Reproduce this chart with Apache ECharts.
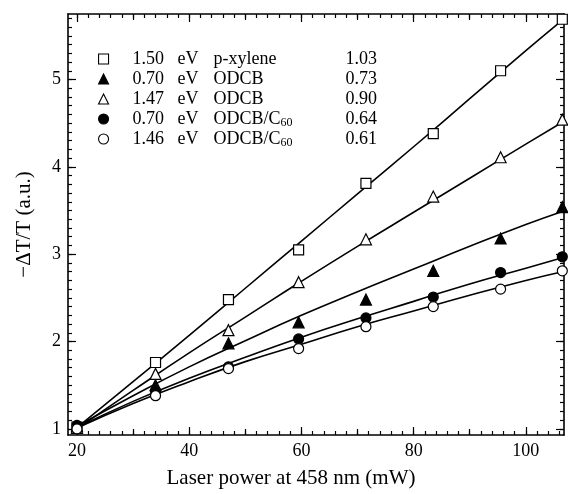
<!DOCTYPE html>
<html>
<head>
<meta charset="utf-8">
<script src="https://cdn.jsdelivr.net/npm/echarts@6/dist/echarts.min.js"></script>
<style>
html,body{margin:0;padding:0;background:#fff;}
#c{width:568px;height:494px;}
</style>
</head>
<body>
<div id="c"></div>
<script>
// ---- data ----
var X_PTS = [20, 34, 47, 59.5, 71.5, 83.5, 95.5, 106.5];
var SQ    = [1.02, 1.76, 2.48, 3.05, 3.81, 4.38, 5.10, 5.69];   // 1.50 eV p-xylene
var TRI_F = [1.03, 1.50, 1.98, 2.22, 2.48, 2.81, 3.18, 3.54];   // 0.70 eV ODCB
var TRI_O = [1.01, 1.63, 2.13, 2.68, 3.17, 3.66, 4.11, 4.54];   // 1.47 eV ODCB
var CIR_F = [1.04, 1.43, 1.71, 2.03, 2.27, 2.51, 2.79, 2.97];   // 0.70 eV ODCB/C60
var CIR_O = [1.00, 1.38, 1.69, 1.92, 2.17, 2.40, 2.60, 2.81];   // 1.46 eV ODCB/C60

// fitted curves (as drawn)
var X_FIT  = [20, 30, 40, 50, 60, 70, 80, 90, 100, 106.5];
var FIT_SQ = [1.015, 1.54, 2.07, 2.61, 3.15, 3.69, 4.23, 4.78, 5.33, 5.68];
var FIT_TF = [1.03, 1.38, 1.71, 2.01, 2.30, 2.57, 2.83, 3.09, 3.34, 3.49];
var FIT_TO = [1.00, 1.44, 1.87, 2.28, 2.69, 3.09, 3.48, 3.87, 4.26, 4.51];
var FIT_CF = [1.015, 1.315, 1.58, 1.82, 2.05, 2.26, 2.46, 2.66, 2.84, 2.96];
var FIT_CO = [1.01, 1.29, 1.54, 1.77, 1.97, 2.17, 2.35, 2.53, 2.70, 2.80];

var ENERGY   = ['1.50', '0.70', '1.47', '0.70', '1.46'];
var SOLVENT  = ['p-xylene', 'ODCB', 'ODCB', 'ODCB/C', 'ODCB/C'];
var SUBS     = ['', '', '', '60', '60'];
var EXPONENT = ['1.03', '0.73', '0.90', '0.64', '0.61'];

var X_LABELS = [20, 40, 60, 80, 100];
var Y_LABELS = [1, 2, 3, 4, 5];
var X_NAME = 'Laser power at 458 nm (mW)';
var Y_NAME = '\u2212\u0394T/T (a.u.)';

// ---- layout / style ----
var XMIN = 18.4, XMAX = 106.8, YMIN = 0.93, YMAX = 5.75;
var FONT = 'Liberation Serif';

var X_MINOR = [], X_MED = [], Y_MINOR = [];
for (var v = 20; v <= XMAX; v += 2) { X_MINOR.push(v); }
for (var v2 = 30; v2 <= XMAX; v2 += 20) { X_MED.push(v2); }
for (var k = 10; k <= 57; k++) { Y_MINOR.push(k / 10); }

var SETS = [
  {y: SQ,    fit: FIT_SQ, symbol: 'rect',     size: 10, fill: '#fff'},
  {y: TRI_F, fit: FIT_TF, symbol: 'triangle', size: 11, fill: '#000'},
  {y: TRI_O, fit: FIT_TO, symbol: 'triangle', size: 11, fill: '#fff'},
  {y: CIR_F, fit: FIT_CF, symbol: 'circle',   size: 10, fill: '#000'},
  {y: CIR_O, fit: FIT_CO, symbol: 'circle',   size: 10, fill: '#fff'}
];

function pairs(xs, ys) { return xs.map(function (x, i) { return [x, ys[i]]; }); }

var series = [], legendData = [], labelMap = {};
SETS.forEach(function (s, i) {
  var name = 'S' + i;
  series.push({
    type: 'line', data: pairs(X_FIT, s.fit), showSymbol: false, smooth: true,
    lineStyle: {color: '#000', width: 1.6}, silent: true, z: 2, clip: false
  });
  series.push({
    type: 'scatter', name: name, data: pairs(X_PTS, s.y),
    symbol: s.symbol, symbolSize: s.size,
    itemStyle: {color: s.fill, borderColor: '#000', borderWidth: 1.2, opacity: 1},
    z: 3, clip: false
  });
  legendData.push({
    name: name, icon: s.symbol,
    itemStyle: {color: s.fill, borderColor: '#000', borderWidth: 1.1}
  });
  var txt = '{sp|}{e|' + ENERGY[i] + '}{u|eV}';
  if (SUBS[i]) { txt += '{s2|' + SOLVENT[i] + '}{sub|' + SUBS[i] + '}'; }
  else { txt += '{s|' + SOLVENT[i] + '}'; }
  txt += '{x|' + EXPONENT[i] + '}';
  labelMap[name] = txt;
});

function xAx(pos, ticks, len, labels, extra) {
  var a = {
    type: 'value', position: pos, min: XMIN, max: XMAX,
    axisLine: {show: !!extra.line, lineStyle: {color: '#000', width: 1.6}},
    axisTick: {show: true, inside: true, length: len, customValues: ticks,
               lineStyle: {color: '#000', width: 1.2}},
    axisLabel: labels ? {show: true, customValues: labels, fontFamily: FONT, fontSize: 18,
               color: '#000', margin: 7} : {show: false},
    splitLine: {show: false}
  };
  for (var k in extra) { if (k !== 'line') a[k] = extra[k]; }
  return a;
}
function yAx(pos, ticks, len, labels, extra) {
  var a = {
    type: 'value', position: pos, min: YMIN, max: YMAX,
    axisLine: {show: !!extra.line, lineStyle: {color: '#000', width: 1.6}},
    axisTick: {show: true, inside: true, length: len, customValues: ticks,
               lineStyle: {color: '#000', width: 1.2}},
    axisLabel: labels ? {show: true, customValues: labels, fontFamily: FONT, fontSize: 18,
               color: '#000', margin: 7} : {show: false},
    splitLine: {show: false}
  };
  for (var k in extra) { if (k !== 'line') a[k] = extra[k]; }
  return a;
}

var option = {
  backgroundColor: '#fff',
  animation: false,
  grid: {left: 68, right: 4, top: 14, bottom: 57, containLabel: false},
  xAxis: [
    xAx('bottom', X_LABELS, 8, X_LABELS, {line: true, name: X_NAME, nameLocation: 'middle', nameGap: 33,
        nameTextStyle: {fontFamily: FONT, fontSize: 21, color: '#000', padding: [0, 50, 0, 0]}}),
    xAx('bottom', X_MINOR, 4, null, {}),
    xAx('bottom', X_MED, 6, null, {}),
    xAx('top', X_LABELS, 8, null, {line: true}),
    xAx('top', X_MINOR, 4, null, {}),
    xAx('top', X_MED, 6, null, {})
  ],
  yAxis: [
    yAx('left', Y_LABELS, 8, Y_LABELS, {line: true, name: Y_NAME, nameLocation: 'middle', nameGap: 33,
        nameTextStyle: {fontFamily: FONT, fontSize: 21, color: '#000'}}),
    yAx('left', Y_MINOR, 4, null, {}),
    yAx('right', Y_LABELS, 8, null, {line: true}),
    yAx('right', Y_MINOR, 4, null, {})
  ],
  legend: {
    show: true, orient: 'vertical', left: 93, top: 44,
    itemWidth: 10, itemHeight: 10, itemGap: 0,
    selectedMode: false, data: legendData,
    formatter: function (n) { return labelMap[n]; },
    textStyle: {
      fontFamily: FONT, fontSize: 18, color: '#000', lineHeight: 20,
      rich: {
        sp: {width: 19, fontFamily: FONT, fontSize: 18, lineHeight: 20},
        e: {width: 45, fontFamily: FONT, fontSize: 18, color: '#000', lineHeight: 20},
        u: {width: 36, fontFamily: FONT, fontSize: 18, color: '#000', lineHeight: 20},
        s: {width: 132, fontFamily: FONT, fontSize: 18, color: '#000', lineHeight: 20},
        s2: {width: 67, fontFamily: FONT, fontSize: 18, color: '#000', lineHeight: 20},
        sub: {width: 65, fontFamily: FONT, fontSize: 12, color: '#000', lineHeight: 12, verticalAlign: 'bottom', padding: [6, 0, 0, 0]},
        x: {fontFamily: FONT, fontSize: 18, color: '#000', lineHeight: 20}
      }
    }
  },
  series: series
};

var chart = echarts.init(document.getElementById('c'), null, {renderer: 'canvas'});
chart.setOption(option);
</script>
</body>
</html>
